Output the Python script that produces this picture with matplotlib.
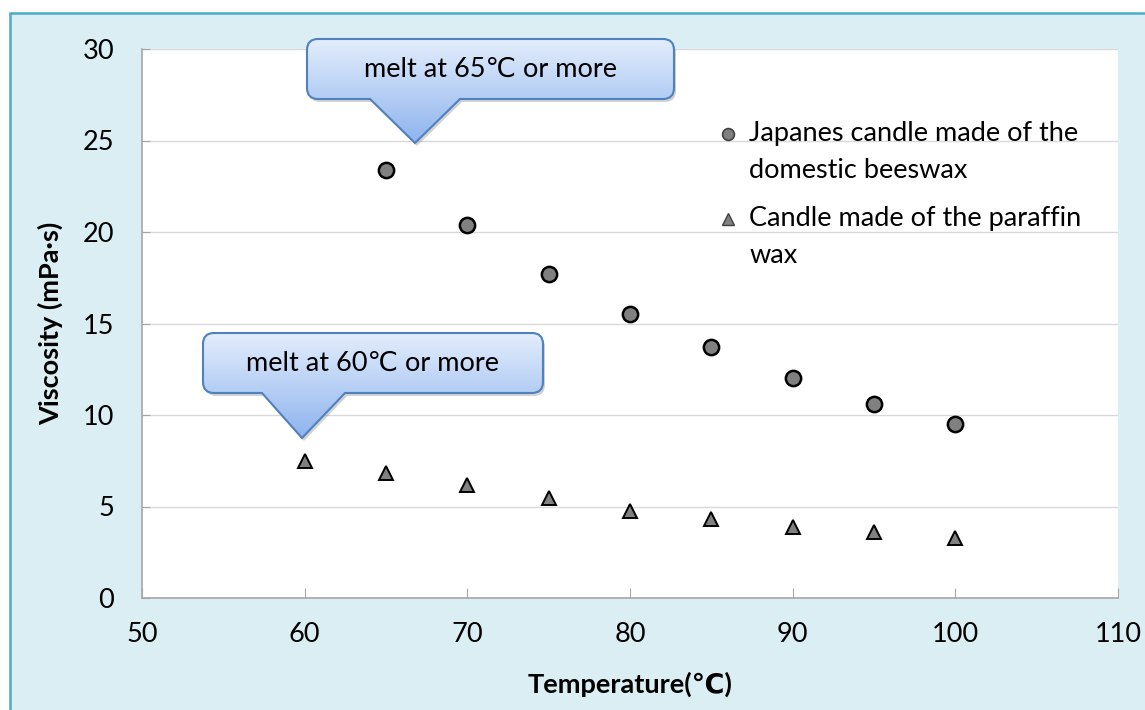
import numpy as np
import matplotlib
matplotlib.use("Agg")
import matplotlib.pyplot as plt
from matplotlib.path import Path
from matplotlib.patches import PathPatch, Rectangle
from matplotlib.transforms import IdentityTransform, Affine2D
from matplotlib.colors import to_rgb

plt.rcParams['font.family'] = ['Lato', 'DejaVu Sans']

# data
temp_beeswax = [65, 70, 75, 80, 85, 90, 95, 100]
visc_beeswax = [23.4, 20.4, 17.7, 15.5, 13.7, 12.0, 10.6, 9.5]
temp_paraffin = [60, 65, 70, 75, 80, 85, 90, 95, 100]
visc_paraffin = [7.5, 6.85, 6.15, 5.45, 4.75, 4.3, 3.9, 3.6, 3.3]

label_beeswax = "Japanes candle made of the\ndomestic beeswax"
label_paraffin = "Candle made of the paraffin\nwax"

FS = 19.5
W, H = 1145, 710
fig = plt.figure(figsize=(W / 100, H / 100), dpi=100, facecolor='white')

# outer frame
frame = Rectangle((10, -20), 1200, H - 13 + 20, transform=IdentityTransform(),
                  facecolor='#DBEEF4', edgecolor='#4BACC6', lw=1.8, zorder=-5)
fig.add_artist(frame)

ax = fig.add_axes([142 / W, (H - 598) / H, (1118 - 142) / W, (598 - 49) / H])
ax.set_facecolor('white')
ax.set_xlim(50, 110)
ax.set_ylim(0, 30)
ax.set_xticks(np.arange(50, 111, 10))
ax.set_yticks(np.arange(0, 31, 5))
ax.yaxis.grid(True, color='#D9D9D9', lw=1)
ax.set_axisbelow(True)
for s in ['top', 'right']:
    ax.spines[s].set_visible(False)
for s in ['left', 'bottom']:
    ax.spines[s].set_color('#A6A6A6')
    ax.spines[s].set_linewidth(1.2)
ax.tick_params(direction='in', length=7, color='#A6A6A6', labelsize=FS)
ax.tick_params(axis='y', length=6, pad=20)
ax.tick_params(axis='x', pad=17)

ax.set_xlabel("Temperature(℃)", fontsize=FS, fontweight='bold', labelpad=18)
ax.set_ylabel("Viscosity (mPa·s)", fontsize=FS, fontweight='bold', labelpad=14)

ax.plot(temp_beeswax, visc_beeswax, 'o', ms=11, mfc='#808080', mec='black', mew=1.8, ls='none', zorder=5)
ax.plot(temp_paraffin, visc_paraffin, '^', ms=10, mfc='#808080', mec='black', mew=1.4, ls='none', zorder=5)

# manual legend
ax.plot([0.600], [0.845], 'o', ms=8.5, mfc='#808080', mec='#404040', mew=1.2, transform=ax.transAxes, clip_on=False)
ax.text(0.622, 0.812, label_beeswax, transform=ax.transAxes, fontsize=FS, va='center', ha='left', linespacing=1.6)
ax.plot([0.600], [0.690], '^', ms=8, mfc='#808080', mec='#404040', mew=1.0, transform=ax.transAxes, clip_on=False)
ax.text(0.622, 0.658, label_paraffin, transform=ax.transAxes, fontsize=FS, va='center', ha='left', linespacing=1.6)


def bubble(l, r, t, b, bl, br, tx, ty, text, rad=11):
    # pixel coords with origin at top-left -> display coords
    top, bot, tipy = H - t, H - b, H - ty
    verts = [(l + rad, top), (r - rad, top), (r, top), (r, top - rad),
             (r, bot + rad), (r, bot), (r - rad, bot),
             (br, bot), (tx, tipy), (bl, bot),
             (l + rad, bot), (l, bot), (l, bot + rad),
             (l, top - rad), (l, top), (l + rad, top), (l + rad, top)]
    codes = [Path.MOVETO, Path.LINETO, Path.CURVE3, Path.CURVE3,
             Path.LINETO, Path.CURVE3, Path.CURVE3,
             Path.LINETO, Path.LINETO, Path.LINETO,
             Path.LINETO, Path.CURVE3, Path.CURVE3,
             Path.LINETO, Path.CURVE3, Path.CURVE3, Path.CLOSEPOLY]
    path = Path(verts, codes)
    shadow = PathPatch(path.transformed(Affine2D().translate(2, -3)),
                       transform=IdentityTransform(), facecolor='#7F7F7F', edgecolor='none',
                       alpha=0.35, zorder=10)
    fig.add_artist(shadow)
    outline = PathPatch(path, transform=IdentityTransform(), facecolor='none',
                        edgecolor='#4F81BD', lw=1.5, zorder=12)
    fig.add_artist(outline)
    h = int(top - tipy) + 2
    w = int(r - l) + 2
    c1 = np.array(to_rgb('#E4EEFC'))
    c2 = np.array(to_rgb('#8DB3EE'))
    frac = np.linspace(0, 1, h)[:, None, None]
    img = c1 * (1 - frac) + c2 * frac
    img = np.repeat(img, w, axis=1)
    im = fig.figimage(img, xo=int(l) - 1, yo=int(tipy) - 1, origin='upper', zorder=11)
    im.set_clip_path(outline)
    fig.text((l + r) / 2 / W, (top + bot) / 2 / H, text, ha='center', va='center',
             fontsize=FS, zorder=13)


bubble(307, 674, 39, 99, 370, 460, 415, 143, "melt at 65℃ or more")
bubble(203, 543, 333, 393, 262, 345, 302, 438, "melt at 60℃ or more")

fig.savefig("out.png", dpi=100)
